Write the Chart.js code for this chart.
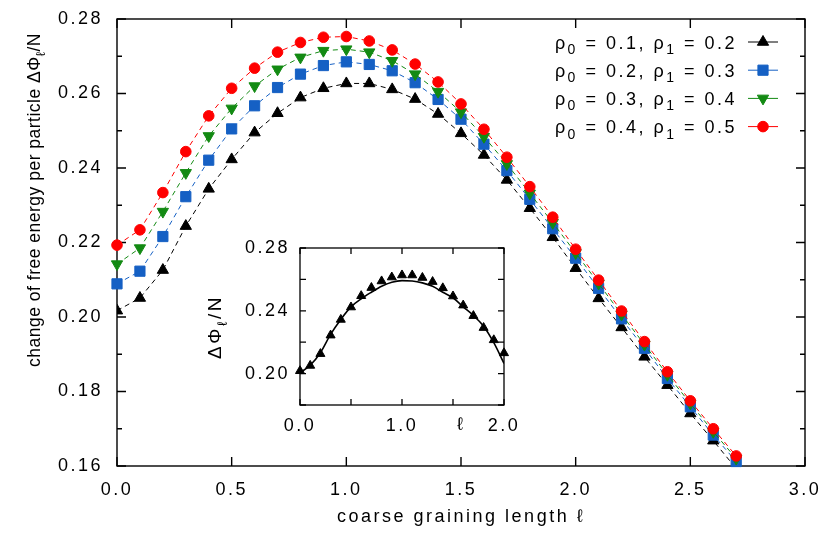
<!DOCTYPE html>
<html lang="en">
<head>
  <meta charset="UTF-8">
  <title>Free energy per particle vs coarse graining length</title>
  <script src="https://cdn.jsdelivr.net/npm/chart.js"></script>
  <style>
    body { margin: 0; background: #fff; }
    #wrap { position: relative; width: 832px; height: 533px; }
    #mainChart { position: absolute; left: 0; top: 0; }
    #insetChart { position: absolute; left: 190px; top: 228px; }
  </style>
</head>
<body>
  <div id="wrap">
    <canvas id="mainChart" width="832" height="533"></canvas>
    <canvas id="insetChart" width="330" height="215"></canvas>
  </div>

  <script>
    // coarse graining length l
    const lengths = [0.0, 0.1, 0.2, 0.3, 0.4, 0.5, 0.6, 0.7, 0.8, 0.9, 1.0, 1.1, 1.2, 1.3,
                     1.4, 1.5, 1.6, 1.7, 1.8, 1.9, 2.0, 2.1, 2.2, 2.3, 2.4, 2.5, 2.6, 2.7];

    // rho0 = 0.1, rho1 = 0.2
    const phiRho01 = [0.2017, 0.2051, 0.2126, 0.2244, 0.2344, 0.2423, 0.2495, 0.2547, 0.2589, 0.2614,
                      0.2627, 0.2627, 0.2611, 0.2585, 0.2545, 0.2493, 0.2435, 0.2368, 0.2292, 0.2214,
                      0.2131, 0.2050, 0.1972, 0.1893, 0.1817, 0.1741, 0.1668, 0.1593];
    // rho0 = 0.2, rho1 = 0.3
    const phiRho02 = [0.2089, 0.2123, 0.2216, 0.2323, 0.2421, 0.2505, 0.2567, 0.2616, 0.2652, 0.2675,
                      0.2685, 0.2678, 0.2661, 0.2629, 0.2584, 0.2531, 0.2464, 0.2393, 0.2316, 0.2237,
                      0.2158, 0.2077, 0.1995, 0.1916, 0.1835, 0.1759, 0.1683, 0.1612];
    // rho0 = 0.3, rho1 = 0.4
    const phiRho03 = [0.2142, 0.2185, 0.2283, 0.2387, 0.2486, 0.2560, 0.2620, 0.2665, 0.2697, 0.2715,
                      0.2719, 0.2711, 0.2688, 0.2652, 0.2605, 0.2550, 0.2484, 0.2411, 0.2332, 0.2253,
                      0.2172, 0.2090, 0.2007, 0.1926, 0.1845, 0.1768, 0.1692, 0.1620];
    // rho0 = 0.4, rho1 = 0.5
    const phiRho04 = [0.2193, 0.2234, 0.2334, 0.2444, 0.2540, 0.2614, 0.2668, 0.2711, 0.2737, 0.2751,
                      0.2753, 0.2741, 0.2717, 0.2679, 0.2631, 0.2572, 0.2504, 0.2429, 0.2350, 0.2268,
                      0.2182, 0.2099, 0.2016, 0.1934, 0.1853, 0.1775, 0.1700, 0.1627];

    // inset: solid theory curve for rho0 = 0.1, rho1 = 0.2
    const theoryLengths = [0.0, 0.1, 0.2, 0.3, 0.4, 0.5, 0.6, 0.7, 0.8, 0.9, 1.0,
                           1.1, 1.2, 1.3, 1.4, 1.5, 1.6, 1.7, 1.8, 1.9, 2.0];
    const theoryRho01 = [0.2005, 0.2053, 0.2133, 0.2250, 0.2345, 0.2425, 0.2476, 0.2518, 0.2556, 0.2582,
                         0.2592, 0.2590, 0.2578, 0.2556, 0.2518, 0.2483, 0.2425, 0.2370, 0.2302, 0.2197, 0.2065];

    // key text, every second piece is a subscript
    const seriesLabels = [
      ['ρ', '0', ' = 0.1, ρ', '1', ' = 0.2'],
      ['ρ', '0', ' = 0.2, ρ', '1', ' = 0.3'],
      ['ρ', '0', ' = 0.3, ρ', '1', ' = 0.4'],
      ['ρ', '0', ' = 0.4, ρ', '1', ' = 0.5']
    ];

    // tick marks drawn on the frame
    const mainYMarks = [0.16, 0.17, 0.18, 0.19, 0.20, 0.21, 0.22, 0.23, 0.24, 0.25, 0.26, 0.27, 0.28];
    const insetYMarks = [0.18, 0.20, 0.22, 0.24, 0.26, 0.28];

    const FONT = '"Liberation Sans", Arial, Helvetica, sans-serif';
    const colors = { black: '#000000', blue: '#1560c4', green: '#138a13', red: '#ff0000' };

    function pts(xs, ys) {
      return ys.map((v, i) => ({ x: xs[i], y: v }));
    }

    // draws text where every second piece is a subscript
    function richText(ctx, parts, x, y, align, size) {
      const big = size + 'px ' + FONT;
      const small = Math.round(size * 0.75) + 'px ' + FONT;
      let w = 0;
      parts.forEach((p, i) => { ctx.font = i % 2 ? small : big; w += ctx.measureText(p).width; });
      let cx = align === 'right' ? x - w : align === 'center' ? x - w / 2 : x;
      ctx.textAlign = 'left';
      ctx.textBaseline = 'alphabetic';
      parts.forEach((p, i) => {
        ctx.font = i % 2 ? small : big;
        ctx.fillText(p, cx, i % 2 ? y + size * 0.3 : y);
        cx += ctx.measureText(p).width;
      });
    }

    // the original lettering is set wide
    const spacing = {
      id: 'spacing',
      beforeDraw(chart) {
        if ('letterSpacing' in chart.ctx) chart.ctx.letterSpacing = '2.5px';
      }
    };

    // frame with inward ticks, like gnuplot
    const frameTicks = {
      id: 'frameTicks',
      beforeDatasetsDraw(chart, args, opts) {
        const { ctx, chartArea: a } = chart;
        const xs = chart.scales.x, ys = chart.scales.y;
        ctx.save();
        ctx.strokeStyle = '#000';
        ctx.lineWidth = opts.lineWidth;
        ctx.strokeRect(a.left, a.top, a.right - a.left, a.bottom - a.top);
        ctx.beginPath();
        xs.ticks.forEach(t => {
          const px = xs.getPixelForValue(t.value);
          ctx.moveTo(px, a.bottom); ctx.lineTo(px, a.bottom - opts.major);
          ctx.moveTo(px, a.top); ctx.lineTo(px, a.top + opts.major);
        });
        opts.yMarks.forEach(v => {
          const py = ys.getPixelForValue(v);
          const isMajor = Math.round(v * 100) % opts.majorEvery === 0;
          const len = isMajor ? opts.major : opts.minor;
          ctx.moveTo(a.left, py); ctx.lineTo(a.left + len, py);
          ctx.moveTo(a.right, py); ctx.lineTo(a.right - len, py);
        });
        ctx.stroke();
        ctx.restore();
      }
    };

    // y title with subscript and the key
    const mainDecor = {
      id: 'mainDecor',
      afterDraw(chart) {
        const ctx = chart.ctx;
        ctx.save();
        ctx.letterSpacing = '0.5px';
        ctx.fillStyle = '#000';
        ctx.translate(40, 200);
        ctx.rotate(-Math.PI / 2);
        richText(ctx, ['change of free energy per particle ΔΦ', 'ℓ', '/N'], 0, 0, 'center', 17.5);
        ctx.restore();

        const keyOrder = [3, 2, 1, 0];
        keyOrder.forEach((dsIndex, row) => {
          const ds = chart.data.datasets[dsIndex];
          const y = 42 + row * 28.2;
          ctx.save();
          ctx.fillStyle = '#000';
          richText(ctx, seriesLabels[row], 737, y + 6.5, 'right', 18);
          ctx.strokeStyle = ds.borderColor;
          ctx.lineWidth = 1;
          ctx.beginPath();
          ctx.moveTo(748, y); ctx.lineTo(778, y);
          ctx.stroke();
          ctx.fillStyle = ds.pointBackgroundColor;
          ctx.strokeStyle = ds.pointBorderColor;
          Chart.helpers.drawPoint(ctx, {
            pointStyle: ds.pointStyle, radius: ds.pointRadius,
            rotation: ds.pointRotation || 0, borderWidth: 1
          }, 763, y);
          ctx.restore();
        });
      }
    };

    const insetDecor = {
      id: 'insetDecor',
      afterDraw(chart) {
        const ctx = chart.ctx;
        const xs = chart.scales.x;
        ctx.save();
        ctx.fillStyle = '#000';
        ctx.font = '18px ' + FONT;
        ctx.textAlign = 'center';
        ctx.textBaseline = 'middle';
        ctx.fillText('ℓ', xs.getPixelForValue(1.58), 197);
        ctx.translate(31, 99);
        ctx.rotate(-Math.PI / 2);
        richText(ctx, ['ΔΦ', 'ℓ', '/N'], 0, 0, 'center', 19);
        ctx.restore();
      }
    };

    // keep the chart area exactly where the layout padding puts it
    function noPad(s) {
      s.paddingTop = 0; s.paddingBottom = 0; s.paddingLeft = 0; s.paddingRight = 0;
    }

    function series(label, data, color, style, radius, rotation) {
      return {
        label: label,
        data: pts(lengths, data),
        borderColor: color,
        backgroundColor: color,
        borderWidth: 1,
        borderDash: [5, 4],
        pointStyle: style,
        pointRadius: radius,
        pointRotation: rotation,
        pointBackgroundColor: color,
        pointBorderColor: color,
        pointBorderWidth: 1,
        clip: 8
      };
    }

    const blackSeries = series('rho0 = 0.1, rho1 = 0.2', phiRho01, colors.black, 'triangle', 6.5, 0);
    blackSeries.clip = 0;

    new Chart(document.getElementById('mainChart'), {
      type: 'line',
      data: {
        datasets: [
          series('rho0 = 0.4, rho1 = 0.5', phiRho04, colors.red, 'circle', 5.3, 0),
          series('rho0 = 0.3, rho1 = 0.4', phiRho03, colors.green, 'triangle', 6.5, 180),
          series('rho0 = 0.2, rho1 = 0.3', phiRho02, colors.blue, 'rect', 7.2, 0),
          blackSeries
        ]
      },
      options: {
        responsive: false,
        animation: false,
        layout: { padding: { top: 19, right: 27, left: 0, bottom: 0 } },
        plugins: {
          legend: { display: false },
          tooltip: { enabled: false },
          frameTicks: { lineWidth: 1.4, major: 9, minor: 5, majorEvery: 2, yMarks: mainYMarks }
        },
        scales: {
          x: {
            type: 'linear', min: 0, max: 3,
            grid: { display: false, drawTicks: false },
            border: { display: false },
            ticks: { stepSize: 0.5, padding: 13, color: '#000', font: { family: FONT, size: 18 },
                     maxRotation: 0, callback: v => v.toFixed(1) },
            title: { display: true, text: 'coarse graining length ℓ', color: '#000',
                     font: { family: FONT, size: 18 }, padding: { top: 0, bottom: 5 } },
            afterFit: s => { s.height = 67; noPad(s); }
          },
          y: {
            type: 'linear', min: 0.16, max: 0.28,
            grid: { display: false, drawTicks: false },
            border: { display: false },
            ticks: { stepSize: 0.02, padding: 14, color: '#000', font: { family: FONT, size: 18 },
                     callback: v => v.toFixed(2) },
            afterFit: s => { s.width = 117; noPad(s); }
          }
        }
      },
      plugins: [spacing, frameTicks, mainDecor]
    });

    new Chart(document.getElementById('insetChart'), {
      type: 'line',
      data: {
        datasets: [
          {
            label: 'rho0 = 0.1 simulation',
            data: pts(lengths.slice(0, 21), phiRho01.slice(0, 21)),
            showLine: false,
            pointStyle: 'triangle',
            pointRadius: 5.2,
            pointBackgroundColor: colors.black,
            pointBorderColor: colors.black,
            pointBorderWidth: 1,
            clip: 8
          },
          {
            label: 'rho0 = 0.1 theory',
            data: pts(theoryLengths, theoryRho01),
            borderColor: colors.black,
            borderWidth: 1.6,
            pointRadius: 0,
            cubicInterpolationMode: 'monotone'
          }
        ]
      },
      options: {
        responsive: false,
        animation: false,
        layout: { padding: { top: 20, right: 16, left: 0, bottom: 0 } },
        plugins: {
          legend: { display: false },
          tooltip: { enabled: false },
          frameTicks: { lineWidth: 1.3, major: 6, minor: 6, majorEvery: 2, yMarks: insetYMarks }
        },
        scales: {
          x: {
            type: 'linear', min: 0, max: 2,
            grid: { display: false, drawTicks: false },
            border: { display: false },
            ticks: { stepSize: 0.5, padding: 10, color: '#000', font: { family: FONT, size: 18 },
                     autoSkip: false, maxRotation: 0,
                     callback: v => (Math.abs(v % 1) < 1e-9 ? v.toFixed(1) : '') },
            afterFit: s => { s.height = 38; noPad(s); }
          },
          y: {
            type: 'linear', min: 0.18, max: 0.28,
            grid: { display: false, drawTicks: false },
            border: { display: false },
            ticks: { stepSize: 0.02, padding: 10, color: '#000', font: { family: FONT, size: 18 },
                     autoSkip: false,
                     callback: v => (Math.round(v * 100) % 4 === 0 ? v.toFixed(2) : '') },
            afterFit: s => { s.width = 110; noPad(s); }
          }
        }
      },
      plugins: [spacing, frameTicks, insetDecor]
    });
  </script>
</body>
</html>
